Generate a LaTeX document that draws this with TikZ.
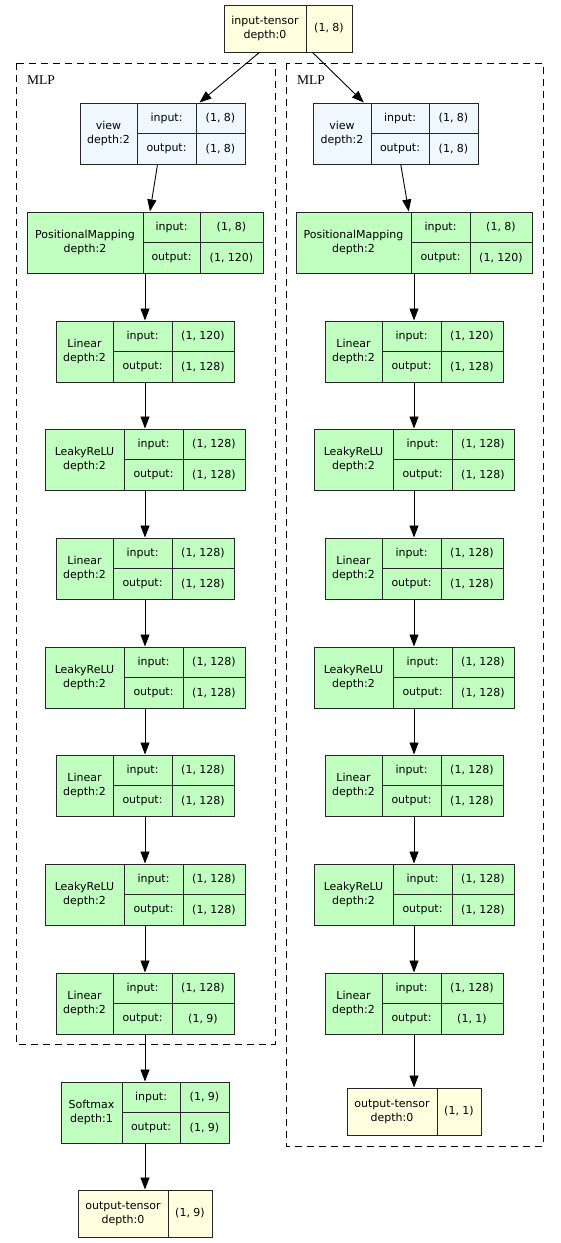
\documentclass[tikz,border=0pt]{standalone}
\usepackage{fontspec}
\newfontfamily\dvsans{DejaVu Sans}
\newfontfamily\lserif{Liberation Serif}
\usetikzlibrary{arrows.meta,fit}
\definecolor{layergreen}{HTML}{C1FFC1}
\definecolor{viewblue}{HTML}{F0F8FF}
\definecolor{tensoryellow}{HTML}{FFFFE0}

% name, x1, x2, x3, x4, top, label, input, output
\newcommand{\layer}[9]{%
 \node[box,tblfill,fit={(#2,#6) (#5,#6+61)}] (#1) {};
 \draw[box] (#3,#6) -- (#3,#6+61) (#4,#6) -- (#4,#6+61) (#3,#6+30.5) -- (#5,#6+30.5);
 \node[txt] at ({(#2+#3)/2},#6+30.5) {#7};
 \node[txt] at ({(#3+#4)/2},#6+15.5) {input:};
 \node[txt] at ({(#3+#4)/2},#6+46) {output:};
 \node[txt] at ({(#4+#5)/2},#6+15.5) {#8};
 \node[txt] at ({(#4+#5)/2},#6+46) {#9};
}
% name, x1, x2, x3, top, label, shape
\newcommand{\tensor}[7]{%
 \node[box,fill=tensoryellow,fit={(#2,#5) (#4,#5+47)}] (#1) {};
 \draw[box] (#3,#5) -- (#3,#5+47);
 \node[txt] at ({(#2+#3)/2},#5+23.5) {#6};
 \node[txt] at ({(#3+#4)/2},#5+23.5) {#7};
}

\begin{document}
\begin{tikzpicture}[x=1pt,y=-1pt,
 box/.style={draw=black!85,line width=1pt,inner sep=0pt},
 tblfill/.style={fill=layergreen},
 txt/.style={font=\dvsans\fontsize{11}{14}\selectfont,align=center,inner sep=0pt},
 edge/.style={draw,line width=0.9pt,-{Triangle[length=12pt,width=9pt]}},
 cluster/.style={draw,line width=0.9pt,dash pattern=on 7pt off 5pt},
 lbl/.style={font=\lserif\fontsize{13.5}{13.5}\selectfont,anchor=north west,inner sep=0pt}]
 \useasboundingbox (0,0) rectangle (560,1243);

 % clusters
 \draw[cluster] (16,63) rectangle (275,1044);
 \node[lbl] (mlpA) at (27,75) {MLP};
 \draw[cluster] (286,63) rectangle (543,1146);
 \node[lbl] (mlpB) at (297,75) {MLP};

 \tensor{inp}{224}{306}{352}{5}{input-tensor\\depth:0}{(1, 8)}

 % left branch
 \begin{scope}[tblfill/.style={fill=viewblue}]
 \layer{viewA}{80}{137}{196}{245}{103}{view\\depth:2}{(1, 8)}{(1, 8)}
 \end{scope}
 \layer{pmA}{27}{143}{200}{263}{212}{PositionalMapping\\depth:2}{(1, 8)}{(1, 120)}
 \layer{linA1}{56}{113}{172}{234}{321}{Linear\\depth:2}{(1, 120)}{(1, 128)}
 \layer{actA1}{45}{124}{183}{245}{429}{LeakyReLU\\depth:2}{(1, 128)}{(1, 128)}
 \layer{linA2}{56}{113}{172}{234}{538}{Linear\\depth:2}{(1, 128)}{(1, 128)}
 \layer{actA2}{45}{124}{183}{245}{647}{LeakyReLU\\depth:2}{(1, 128)}{(1, 128)}
 \layer{linA3}{56}{113}{172}{234}{755}{Linear\\depth:2}{(1, 128)}{(1, 128)}
 \layer{actA3}{45}{124}{183}{245}{864}{LeakyReLU\\depth:2}{(1, 128)}{(1, 128)}
 \layer{linA4}{56}{113}{172}{234}{973}{Linear\\depth:2}{(1, 128)}{(1, 9)}
 \layer{soft}{61}{122}{180}{229}{1082}{Softmax\\depth:1}{(1, 9)}{(1, 9)}
 \tensor{outA}{78}{168}{212}{1190}{output-tensor\\depth:0}{(1, 9)}

 % right branch
 \begin{scope}[tblfill/.style={fill=viewblue}]
 \layer{viewB}{313}{371}{429}{478}{103}{view\\depth:2}{(1, 8)}{(1, 8)}
 \end{scope}
 \layer{pmB}{296}{411}{470}{532}{212}{PositionalMapping\\depth:2}{(1, 8)}{(1, 120)}
 \layer{linB1}{325}{382}{441}{503}{321}{Linear\\depth:2}{(1, 120)}{(1, 128)}
 \layer{actB1}{314}{393}{452}{514}{429}{LeakyReLU\\depth:2}{(1, 128)}{(1, 128)}
 \layer{linB2}{325}{382}{441}{503}{538}{Linear\\depth:2}{(1, 128)}{(1, 128)}
 \layer{actB2}{314}{393}{452}{514}{647}{LeakyReLU\\depth:2}{(1, 128)}{(1, 128)}
 \layer{linB3}{325}{382}{441}{503}{755}{Linear\\depth:2}{(1, 128)}{(1, 128)}
 \layer{actB3}{314}{393}{452}{514}{864}{LeakyReLU\\depth:2}{(1, 128)}{(1, 128)}
 \layer{linB4}{325}{382}{441}{503}{973}{Linear\\depth:2}{(1, 128)}{(1, 1)}
 \tensor{outB}{347}{437}{481}{1088}{output-tensor\\depth:0}{(1, 1)}

 % edges
 \draw[edge] (inp) -- (viewA);
 \draw[edge] (inp) -- (viewB);
 \draw[edge] (viewA) -- (pmA);
 \draw[edge] (pmA) -- (linA1);
 \draw[edge] (linA1) -- (actA1);
 \draw[edge] (actA1) -- (linA2);
 \draw[edge] (linA2) -- (actA2);
 \draw[edge] (actA2) -- (linA3);
 \draw[edge] (linA3) -- (actA3);
 \draw[edge] (actA3) -- (linA4);
 \draw[edge] (linA4) -- (soft);
 \draw[edge] (soft) -- (outA);
 \draw[edge] (viewB) -- (pmB);
 \draw[edge] (pmB) -- (linB1);
 \draw[edge] (linB1) -- (actB1);
 \draw[edge] (actB1) -- (linB2);
 \draw[edge] (linB2) -- (actB2);
 \draw[edge] (actB2) -- (linB3);
 \draw[edge] (linB3) -- (actB3);
 \draw[edge] (actB3) -- (linB4);
 \draw[edge] (linB4) -- (outB);
\end{tikzpicture}
\end{document}
